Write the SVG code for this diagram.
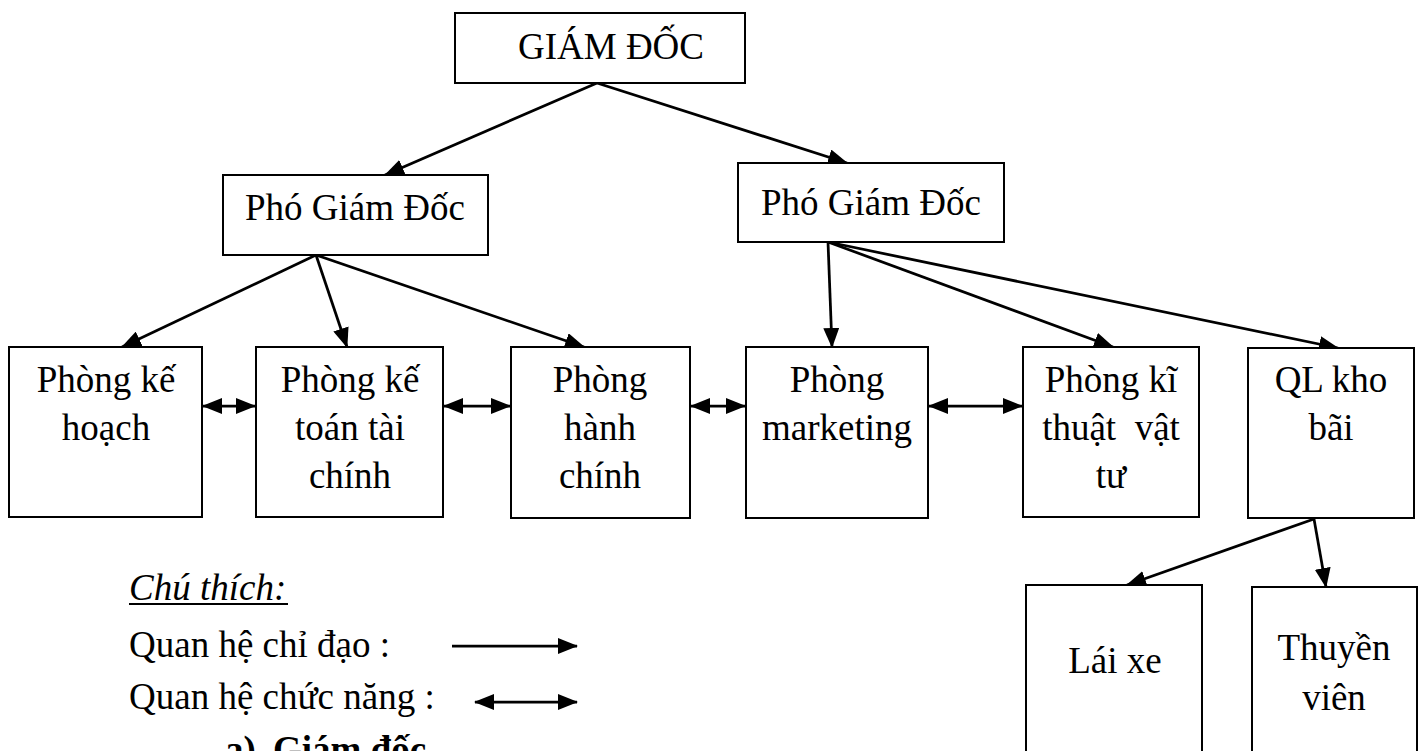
<svg xmlns="http://www.w3.org/2000/svg" width="1424" height="751" viewBox="0 0 1424 751">
  <style>
    .box { fill: #ffffff; stroke: #000000; stroke-width: 2; }
    .lbl { font-family: "Liberation Serif", "Times New Roman", serif; font-size: 37px; fill: #000000; text-anchor: middle; }
    .leg { font-family: "Liberation Serif", "Times New Roman", serif; font-size: 37px; fill: #000000; }
    .conn { stroke: #000000; stroke-width: 2.75; fill: none; }
  </style>
  <defs>
    <marker id="head" viewBox="0 0 20 16" refX="19" refY="8" markerWidth="20" markerHeight="16" markerUnits="userSpaceOnUse" orient="auto-start-reverse">
      <path d="M0,0 L20,8 L0,16 z" fill="#000000"/>
    </marker>
  </defs>
  <rect width="1424" height="751" fill="#ffffff"/>

  <!-- connectors -->
  <g id="connectors">
    <!-- direction lines -->
    <line class="conn" x1="597" y1="83" x2="385" y2="175" marker-end="url(#head)"/>
    <line class="conn" x1="597" y1="83" x2="847" y2="163" marker-end="url(#head)"/>
    <line class="conn" x1="316" y1="255" x2="122" y2="347" marker-end="url(#head)"/>
    <line class="conn" x1="316" y1="255" x2="347" y2="347" marker-end="url(#head)"/>
    <line class="conn" x1="316" y1="255" x2="584" y2="347" marker-end="url(#head)"/>
    <line class="conn" x1="828" y1="242" x2="832" y2="347" marker-end="url(#head)"/>
    <line class="conn" x1="828" y1="242" x2="1113" y2="347" marker-end="url(#head)"/>
    <line class="conn" x1="828" y1="242" x2="1338" y2="348" marker-end="url(#head)"/>
    <line class="conn" x1="1314" y1="519" x2="1127" y2="585" marker-end="url(#head)"/>
    <line class="conn" x1="1314" y1="519" x2="1326" y2="587" marker-end="url(#head)"/>
    <!-- functional links -->
    <line class="conn" x1="203" y1="406" x2="255" y2="406" marker-start="url(#head)" marker-end="url(#head)"/>
    <line class="conn" x1="444" y1="406" x2="510" y2="406" marker-start="url(#head)" marker-end="url(#head)"/>
    <line class="conn" x1="691" y1="406" x2="745" y2="406" marker-start="url(#head)" marker-end="url(#head)"/>
    <line class="conn" x1="929" y1="406" x2="1022" y2="406" marker-start="url(#head)" marker-end="url(#head)"/>
  </g>

  <g id="giam-doc">
    <rect class="box" x="455" y="13" width="290" height="70"/>
    <text class="lbl" x="611" y="59">GIÁM ĐỐC</text>
  </g>

  <g id="pho-giam-doc-1">
    <rect class="box" x="223" y="175" width="265" height="80"/>
    <text class="lbl" x="355" y="220">Phó Giám Đốc</text>
  </g>

  <g id="pho-giam-doc-2">
    <rect class="box" x="738" y="163" width="266" height="79"/>
    <text class="lbl" x="871" y="215">Phó Giám Đốc</text>
  </g>

  <g id="phong-ke-hoach">
    <rect class="box" x="9" y="347" width="193" height="170"/>
    <text class="lbl" x="106" y="392">Phòng kế</text>
    <text class="lbl" x="106" y="440">hoạch</text>
  </g>

  <g id="phong-ke-toan">
    <rect class="box" x="256" y="347" width="187" height="170"/>
    <text class="lbl" x="350" y="392">Phòng kế</text>
    <text class="lbl" x="350" y="440">toán tài</text>
    <text class="lbl" x="350" y="488">chính</text>
  </g>

  <g id="phong-hanh-chinh">
    <rect class="box" x="511" y="347" width="179" height="171"/>
    <text class="lbl" x="600" y="392">Phòng</text>
    <text class="lbl" x="600" y="440">hành</text>
    <text class="lbl" x="600" y="488">chính</text>
  </g>

  <g id="phong-marketing">
    <rect class="box" x="746" y="347" width="182" height="171"/>
    <text class="lbl" x="837" y="392">Phòng</text>
    <text class="lbl" x="837" y="440">marketing</text>
  </g>

  <g id="phong-ki-thuat">
    <rect class="box" x="1023" y="347" width="176" height="170"/>
    <text class="lbl" x="1111" y="392">Phòng kĩ</text>
    <text class="lbl" x="1111" y="440" xml:space="preserve">thuật  vật</text>
    <text class="lbl" x="1111" y="488">tư</text>
  </g>

  <g id="ql-kho-bai">
    <rect class="box" x="1248" y="348" width="166" height="170"/>
    <text class="lbl" x="1331" y="392">QL kho</text>
    <text class="lbl" x="1331" y="440">bãi</text>
  </g>

  <g id="lai-xe">
    <rect class="box" x="1026" y="585" width="176" height="180"/>
    <text class="lbl" x="1115" y="673">Lái xe</text>
  </g>

  <g id="thuyen-vien">
    <rect class="box" x="1252" y="587" width="165" height="180"/>
    <text class="lbl" x="1334" y="660">Thuyền</text>
    <text class="lbl" x="1334" y="710">viên</text>
  </g>

  <!-- legend -->
  <g id="legend">
    <text class="leg" x="129" y="600" font-style="italic">Chú thích:</text>
    <line x1="129" y1="604" x2="288" y2="604" stroke="#000000" stroke-width="2"/>
    <text class="leg" x="129" y="657">Quan hệ chỉ đạo :</text>
    <line class="conn" x1="452" y1="646" x2="577" y2="646" marker-end="url(#head)"/>
    <text class="leg" x="129" y="709">Quan hệ chức năng :</text>
    <line class="conn" x1="475" y1="702" x2="577" y2="702" marker-start="url(#head)" marker-end="url(#head)"/>
    <text class="leg" x="225" y="762" font-weight="bold">a)<tspan x="273">Giám đốc</tspan></text>
  </g>
</svg>
